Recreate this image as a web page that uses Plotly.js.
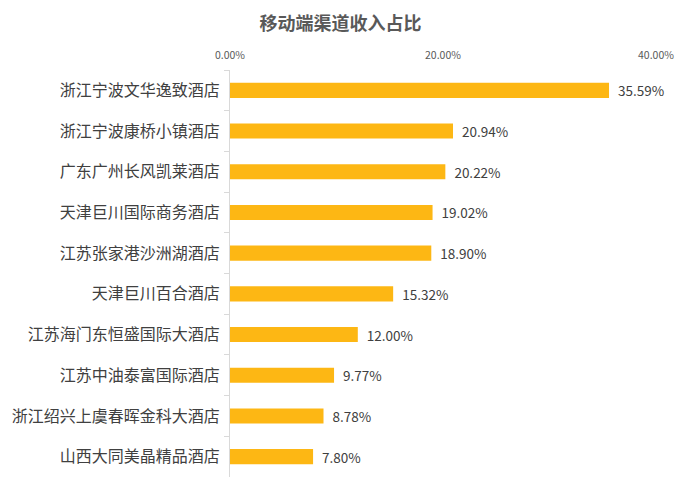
<!DOCTYPE html>
<html>
<head>
<meta charset="utf-8">
<script src="https://cdn.plot.ly/plotly-3.0.1.min.js"></script>
<style>
  html, body { margin: 0; padding: 0; background: #fff; }
  #chart { width: 681px; height: 492px; }
</style>
</head>
<body>
<div id="chart"></div>
<script>
// hotels, top to bottom as in the picture
const hotels = [
    '浙江宁波文华逸致酒店',
    '浙江宁波康桥小镇酒店',
    '广东广州长风凯莱酒店',
    '天津巨川国际商务酒店',
    '江苏张家港沙洲湖酒店',
    '天津巨川百合酒店',
    '江苏海门东恒盛国际大酒店',
    '江苏中油泰富国际酒店',
    '浙江绍兴上虞春晖金科大酒店',
    '山西大同美晶精品酒店'
];
// share of revenue from the mobile channel
const mobileShare = [0.3559, 0.2094, 0.2022, 0.1902, 0.1890, 0.1532, 0.1200, 0.0977, 0.0878, 0.0780];
const xTicks = [0, 0.2, 0.4];

const FONT = '"Noto Sans CJK SC", "Noto Sans", sans-serif';

let bars = {
    type: 'bar',
    orientation: 'h',
    x: mobileShare,
    y: hotels,
    width: 0.37,
    marker: {color: '#FDB714'},
    texttemplate: '\u00a0\u00a0%{x:.2%}',
    textposition: 'outside',
    constraintext: 'none',
    cliponaxis: false,
    textfont: {family: FONT, size: 13.5, color: '#404040'},
    hoverinfo: 'none'
};

let layout = {
    width: 681,
    height: 492,
    margin: {l: 230, r: 25, t: 70, b: 15},
    paper_bgcolor: '#fff',
    plot_bgcolor: '#fff',
    showlegend: false,
    font: {family: FONT, color: '#595959'},
    title: {
        text: '<b>移动端渠道收入占比</b>',
        font: {family: FONT, size: 18, color: '#595959'},
        x: 0.5, xref: 'container', xanchor: 'center',
        y: 0.952, yanchor: 'middle'
    },
    xaxis: {
        side: 'top',
        range: [0, 0.4],
        tickvals: xTicks,
        tickformat: '.2%',
        showgrid: false,
        zeroline: false,
        showline: false,
        ticks: 'outside',
        ticklen: 6,
        tickcolor: 'rgba(0,0,0,0)',
        tickfont: {family: FONT, size: 10.5, color: '#595959'},
        fixedrange: true
    },
    yaxis: {
        autorange: 'reversed',
        showgrid: false,
        zeroline: false,
        showline: true,
        linecolor: '#D9D9D9',
        linewidth: 1,
        ticks: 'outside',
        tickson: 'boundaries',
        ticklen: 5,
        tickcolor: '#D9D9D9',
        tickfont: {family: FONT, size: 16, color: '#404040'},
        ticklabelstandoff: 6,
        fixedrange: true
    }
};

Plotly.newPlot('chart', [bars], layout, {displayModeBar: false, staticPlot: true});
</script>
</body>
</html>
